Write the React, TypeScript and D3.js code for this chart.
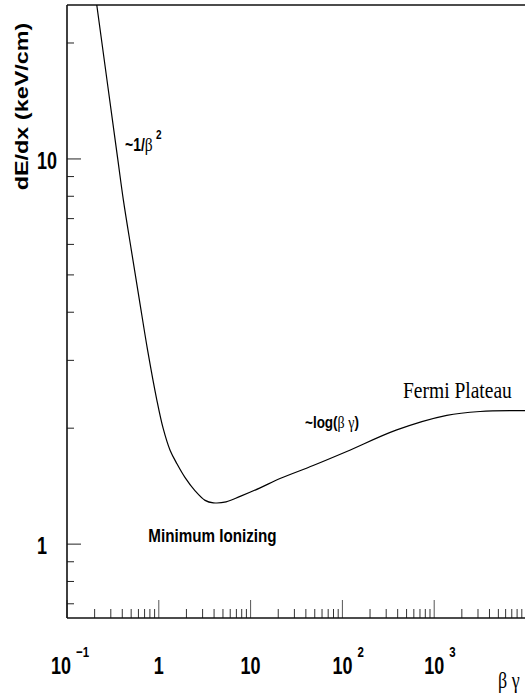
import React, { useEffect, useRef } from "react";
import * as d3 from "d3";

// (beta*gamma, dE/dx in keV/cm)
const betaGamma = [0.211, 0.357, 0.411, 0.502, 0.615, 0.755, 0.951, 1.114, 1.33, 1.582, 1.934, 2.486, 3.195, 3.93, 5.41, 7.69, 12.7, 20.9, 48, 111.6, 391, 1371, 3162, 9800];
const dEdx = [25.1, 10, 7.83, 5.8, 4.3, 3.19, 2.37, 2.0, 1.75, 1.614, 1.488, 1.375, 1.299, 1.28, 1.287, 1.33, 1.4, 1.48, 1.6, 1.74, 1.98, 2.16, 2.21, 2.22];

const xMajor = [0.1, 1, 10, 100, 1000];
const xLabels = [["10", "-1"], ["1", ""], ["10", ""], ["10", "2"], ["10", "3"]];
const yMajor = [1, 10];
const yLabels = ["1", "10"];

const SY = 1.3; // glyphs in the reference are stretched vertically
const sans = "'Liberation Sans', Arial, sans-serif";
const serif = "'Liberation Serif', 'Times New Roman', serif";

const App = () => {
  const ref = useRef<SVGSVGElement | null>(null);

  useEffect(() => {
    const svg = d3.select(ref.current);
    svg.selectAll("*").remove();

    const left = 67, right = 526, top = 5, bottom = 618;
    const x = d3.scaleLog().domain([0.1, 10000]).range([left, right]);
    const y = d3.scaleLog().domain([0.643, 25.1]).range([bottom, top]);

    // minor ticks
    const xMinor: number[] = [];
    for (let e = -1; e < 4; e++) for (let m = 2; m <= 9; m++) xMinor.push(m * Math.pow(10, e));
    const yMinor: number[] = [];
    for (let e = -1; e < 2; e++)
      for (let m = 2; m <= 9; m++) {
        const v = m * Math.pow(10, e);
        if (v >= 0.643 && v <= 25.1) yMinor.push(v);
      }

    const g = svg.append("g");

    g.selectAll(".xminor")
      .data(xMinor)
      .enter()
      .append("line")
      .attr("x1", (d) => x(d)).attr("x2", (d) => x(d))
      .attr("y1", bottom).attr("y2", bottom - 9)
      .attr("stroke", "#333").attr("stroke-width", 1);
    g.selectAll(".xmajor")
      .data(xMajor)
      .enter()
      .append("line")
      .attr("x1", (d) => x(d)).attr("x2", (d) => x(d))
      .attr("y1", bottom).attr("y2", bottom - 18)
      .attr("stroke", "#555").attr("stroke-width", 1);
    g.selectAll(".yminor")
      .data(yMinor)
      .enter()
      .append("line")
      .attr("x1", left).attr("x2", left + 7)
      .attr("y1", (d) => y(d)).attr("y2", (d) => y(d))
      .attr("stroke", "#222").attr("stroke-width", 1);
    g.selectAll(".ymajor")
      .data(yMajor)
      .enter()
      .append("line")
      .attr("x1", left).attr("x2", left + 14)
      .attr("y1", (d) => y(d)).attr("y2", (d) => y(d))
      .attr("stroke", "#222").attr("stroke-width", 1);

    // axes / frame
    g.append("line").attr("x1", left).attr("x2", right).attr("y1", bottom).attr("y2", bottom)
      .attr("stroke", "#111").attr("stroke-width", 1.6);
    g.append("line").attr("x1", left).attr("x2", left).attr("y1", top).attr("y2", bottom)
      .attr("stroke", "#111").attr("stroke-width", 1.6);
    g.append("line").attr("x1", left).attr("x2", right).attr("y1", top).attr("y2", top)
      .attr("stroke", "#111").attr("stroke-width", 1.6);

    // curve
    svg.append("clipPath").attr("id", "plotclip")
      .append("rect").attr("x", left).attr("y", top).attr("width", right - left).attr("height", bottom - top);
    const pts = betaGamma.map((b, i) => [b, dEdx[i]] as [number, number]);
    const line = d3.line<[number, number]>()
      .x((d) => x(d[0]))
      .y((d) => y(d[1]))
      .curve(d3.curveCatmullRom.alpha(0.5));
    g.append("path")
      .attr("d", line(pts))
      .attr("clip-path", "url(#plotclip)")
      .attr("fill", "none")
      .attr("stroke", "#000")
      .attr("stroke-width", 1.2);

    const txt = (tx: number, ty: number, s: number) =>
      g.append("g").attr("transform", `translate(${tx},${ty}) scale(1,${s})`);

    // x tick labels
    xMajor.forEach((v, i) => {
      const [base, exp] = xLabels[i];
      const cx = x(v) + (exp.startsWith("-") ? -6 : 0);
      const t = txt(cx, 674, SY);
      t.append("text").attr("text-anchor", "middle")
        .attr("font-family", sans).attr("font-weight", "bold").attr("font-size", 18)
        .text(base);
      if (exp) {
        t.append("text").attr("x", base.length * 5 + 5).attr("y", -13)
          .attr("font-family", sans).attr("font-weight", "bold").attr("font-size", 11.5)
          .text(exp === "-1" ? "\u22121" : exp);
      }
    });

    // y tick labels
    yMajor.forEach((v, i) => {
      txt(37, y(v) + 10, SY).append("text")
        .attr("font-family", sans).attr("font-weight", "bold").attr("font-size", 18)
        .text(yLabels[i]);
    });

    // axis titles
    g.append("g").attr("transform", `translate(28,106.5) scale(1,${SY}) rotate(-90)`)
      .append("text").attr("text-anchor", "middle")
      .attr("font-family", sans).attr("font-weight", "bold").attr("font-size", 18)
      .text("dE/dx (keV/cm)");
    txt(498, 688, 1.25).append("text")
      .attr("font-family", serif).attr("font-size", 18)
      .text("\u03b2 \u03b3");

    // annotations
    const a1 = txt(125, 150.5, 1.25);
    const t1 = a1.append("text").attr("font-family", sans).attr("font-size", 14);
    t1.append("tspan").attr("font-weight", "bold").text("~1/");
    t1.append("tspan").attr("font-family", serif).attr("font-size", 15.5).text("\u03b2");
    a1.append("text").attr("x", 31).attr("y", -9)
      .attr("font-family", sans).attr("font-weight", "bold").attr("font-size", 10).text("2");

    const a2 = txt(305, 428, 1.2);
    const t2 = a2.append("text").attr("font-family", sans).attr("font-size", 13.5);
    t2.append("tspan").attr("font-weight", "bold").text("~log(");
    t2.append("tspan").attr("font-family", serif).attr("font-size", 14).text("\u03b2 \u03b3");
    t2.append("tspan").attr("font-weight", "bold").text(")");

    txt(148.3, 541.7, 1.22).append("text")
      .attr("font-family", sans).attr("font-weight", "bold").attr("font-size", 15.2)
      .text("Minimum Ionizing");

    txt(403, 397.7, 1.15).append("text")
      .attr("font-family", serif).attr("font-size", 19.5)
      .text("Fermi Plateau");
  }, []);

  return (
    <div style={{ position: "absolute", left: 0, top: 0, width: 525, height: 697, background: "#fff" }}>
      <svg ref={ref} width={525} height={697} />
    </div>
  );
};

export default App;
